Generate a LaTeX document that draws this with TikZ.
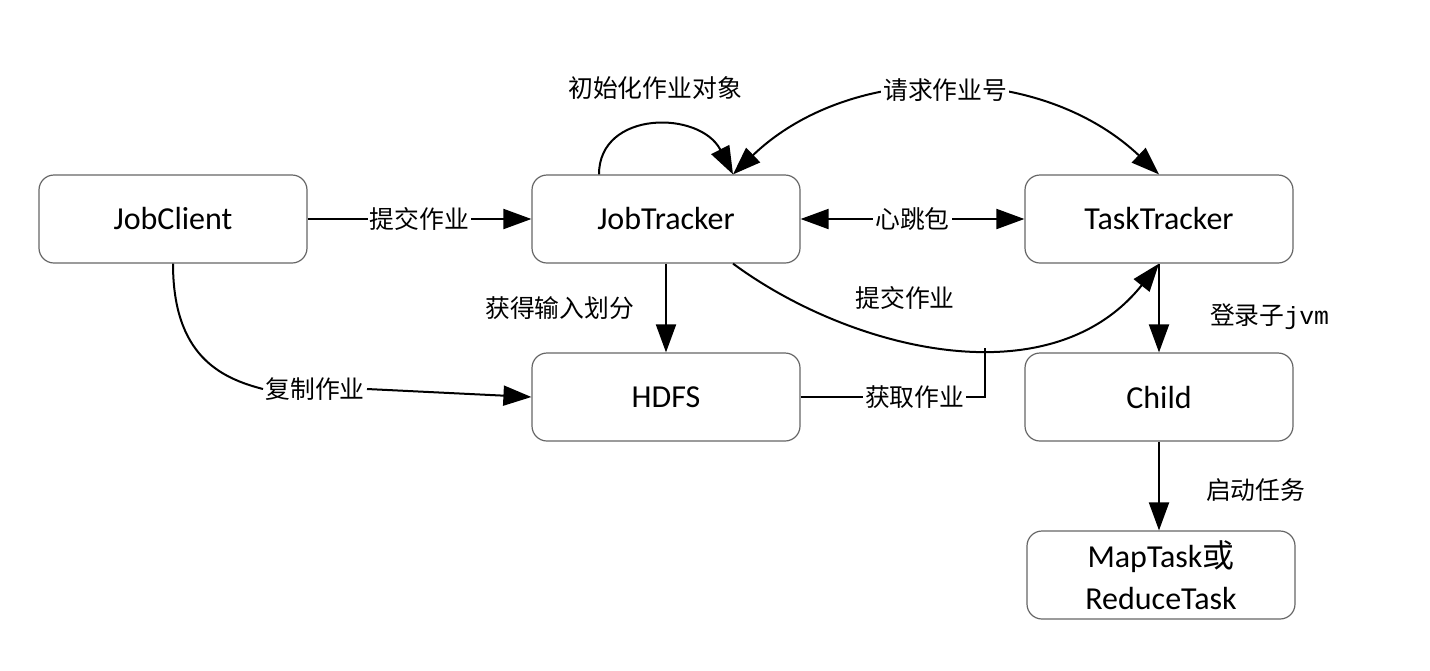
\documentclass[tikz,border=0pt]{standalone}
\usepackage{fontspec}
\setmainfont{Carlito}
\setmonofont{Liberation Mono}
\newfontfamily\cjk{Noto Sans CJK SC}
\usetikzlibrary{arrows.meta}
\tikzset{b/.style={draw=black!60, line width=0.6pt, rounded corners=7.5pt,
  minimum width=134pt, minimum height=44pt, align=center,
  font=\fontsize{16}{21}\selectfont}}
\tikzset{l/.style={font=\cjk\fontsize{12.4}{14}\selectfont, inner sep=1pt}}
\tikzset{a/.style={line width=1pt, -{Triangle[length=14pt,width=10pt]}}}
\tikzset{aa/.style={line width=1pt, {Triangle[length=14pt,width=10pt]}-{Triangle[length=14pt,width=10pt]}}}

\begin{document}
\begin{tikzpicture}[x=0.5pt,y=-0.5pt]
    \useasboundingbox (0,0) rectangle (1430,670);
    % boxes
    \node[b] (JC) at (173,219) {JobClient};
    \node[b] (JT) at (666,219) {JobTracker};
    \node[b] (TT) at (1159,219) {TaskTracker};
    \node[b] (HD) at (666,397) {HDFS};
    \node[b] (CH) at (1159,397) {Child};
    \node[b] (MR) at (1161,575) {MapTask{\cjk 或}\\ReduceTask};
    % straight arrows
    \draw[a] (JC) -- node[l, fill=white] {提交作业} (JT);
    \draw[aa] (JT) -- node[l, fill=white] {心跳包} (TT);
    \draw[a] (JT) -- node[l, left=14.5pt] {获得输入划分} (HD);
    \draw[a] (TT) -- node[l, right=24pt, pos=0.6] {登录子{\ttfamily jvm}} (CH);
    \draw[a] (CH.south) -- node[l, right=22pt, pos=0.55] {启动任务} (CH.south |- MR.north);
    % self loop
    \draw[a] ([xshift=-33.5pt]JT.north)
      .. controls (599,110) and (700,110) .. ([xshift=33.5pt]JT.north);
    \node[l] (IN) at (655,88) {初始化作业对象};
    % request job id
    \draw[aa] ([xshift=33.5pt]JT.north)
      .. controls (850,62) and (1040,62) .. (TT.north)
      node[l, fill=white, pos=0.5] (RQ) {请求作业号};
    % submit job to tasktracker
    \draw[a] ([xshift=33.5pt]JT.south)
      .. controls (850,350) and (1050,400) .. (TT.south)
      coordinate[pos=0.576] (J);
    \node[l] (SJ) at (905,298) {提交作业};
    % fetch job
    \draw[line width=1pt] (HD.east) -| node[l, fill=white, pos=0.31] {获取作业} (J);
    % copy job
    \node[l, fill=white] (CP) at (315,389) {复制作业};
    \draw[line width=1pt] (JC.south) .. controls (173,355) and (220,378) .. (CP.west);
    \draw[a] (CP.east) -- (HD.west);
\end{tikzpicture}
\end{document}
